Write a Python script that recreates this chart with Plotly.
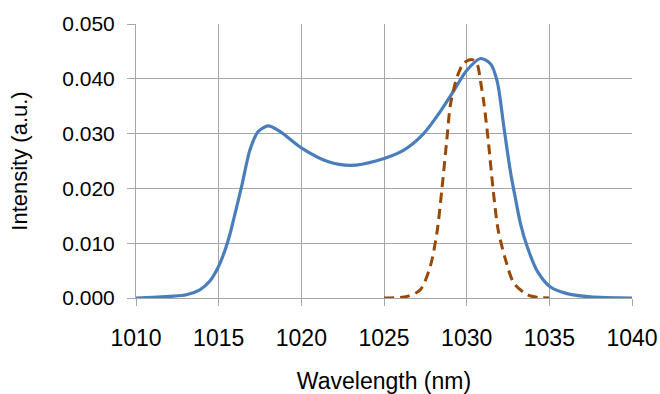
import plotly.graph_objects as go

# Blue solid series
wl_blue = [1010, 1011, 1012.05, 1013.05, 1013.86, 1014.47, 1014.97, 1015.37, 1015.67,
           1016.08, 1016.4, 1016.9, 1017.4, 1018.0, 1018.7, 1020.0, 1021.6, 1023.0,
           1024.5, 1026.2, 1027.4, 1028.4, 1029.2, 1030.0, 1030.84, 1031.45,
           1031.85, 1032.25, 1032.65, 1032.96, 1033.26, 1033.67, 1034.27, 1035.07,
           1036.08, 1037.5, 1040]
int_blue = [0.0, 0.0001, 0.0003, 0.0006, 0.0015, 0.0031, 0.0056, 0.0086, 0.0115,
            0.0165, 0.0205, 0.0271, 0.0304, 0.0314, 0.0304, 0.0274, 0.0249, 0.0242,
            0.0250, 0.0270, 0.0300, 0.0340, 0.0377, 0.0415, 0.0437, 0.0427,
            0.0395, 0.0312, 0.0230, 0.0180, 0.0135, 0.0093, 0.0049, 0.0020,
            0.0008, 0.0002, 0.0]

# Brown dashed series
wl_brown = [1025.0, 1026.4, 1027.2, 1027.8, 1028.2, 1028.5, 1028.8, 1029.03, 1029.43,
            1029.83, 1030.34, 1030.64, 1030.84, 1031.04, 1031.3, 1031.6, 1031.9,
            1032.35, 1032.86, 1033.67, 1034.3, 1035.0]
int_brown = [0.0, 0.0003, 0.0015, 0.0058, 0.0119, 0.0198, 0.0289, 0.0355, 0.0404,
             0.0429, 0.0435, 0.0426, 0.0395, 0.0356, 0.0289, 0.0198, 0.0125,
             0.0070, 0.0027, 0.0006, 0.0001, 0.0]

x_ticks = [1010, 1015, 1020, 1025, 1030, 1035, 1040]
y_ticks = [0.000, 0.010, 0.020, 0.030, 0.040, 0.050]

fig = go.Figure()
fig.add_trace(go.Scatter(x=wl_blue, y=int_blue, mode="lines",
                         line=dict(color="#4a7ebb", width=3.2, shape="spline", smoothing=0.8),
                         showlegend=False))
fig.add_trace(go.Scatter(x=wl_brown, y=int_brown, mode="lines",
                         line=dict(color="#984807", width=3, dash="10px,6px", shape="spline", smoothing=0.8),
                         showlegend=False))

grid = "#a6a6a6"
font = "Liberation Sans, Arial, sans-serif"
fig.update_layout(
    width=660, height=394,
    margin=dict(l=136, r=28, t=24, b=96),
    paper_bgcolor="white", plot_bgcolor="white",
    font=dict(family=font, color="black", size=21),
    showlegend=False,
)
fig.update_xaxes(
    range=[1010, 1040], tickvals=x_ticks, ticktext=[str(v) for v in x_ticks],
    tickfont=dict(size=23), automargin=False,
    showgrid=True, gridcolor=grid, gridwidth=1,
    showline=True, linecolor=grid, linewidth=1,
    ticks="outside", ticklen=7, tickcolor=grid,
    ticklabelstandoff=12,
    zeroline=False,
    title=dict(text="Wavelength (nm)", font=dict(size=23), standoff=32),
)
fig.update_yaxes(
    range=[0, 0.050], tickvals=y_ticks, ticktext=["%.3f" % v for v in y_ticks],
    tickfont=dict(size=21), automargin=False,
    showgrid=True, gridcolor=grid, gridwidth=1,
    showline=True, linecolor=grid, linewidth=1,
    ticks="outside", ticklen=8, tickcolor=grid,
    ticklabelstandoff=8,
    zeroline=False,
    title=dict(text="Intensity (a.u.)", font=dict(size=22), standoff=28),
)

fig.write_html("out.html")
